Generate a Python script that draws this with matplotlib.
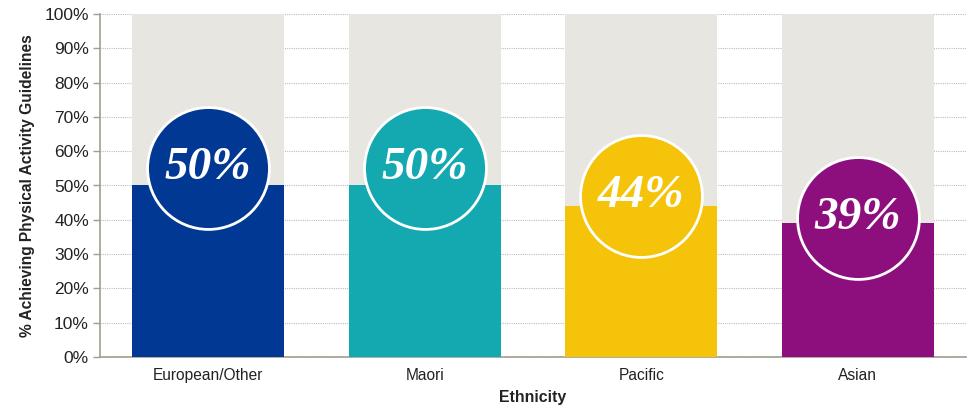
import matplotlib.pyplot as plt
from matplotlib.ticker import PercentFormatter

# --- Data ---
ethnicities = ["European/Other", "Maori", "Pacific", "Asian"]
achieving = [50, 50, 44, 39]
bar_colors = ["#003893", "#14A8B0", "#F5C40A", "#8C0F7D"]
yticks = [0, 10, 20, 30, 40, 50, 60, 70, 80, 90, 100]

# badge circle lift above bar top (percentage points)
badge_lift = [5.0, 5.0, 2.8, 1.4]

plt.rcParams['font.family'] = ['Liberation Sans', 'DejaVu Sans']

fig = plt.figure(figsize=(9.73, 4.11), dpi=100)
ax = fig.add_axes([100 / 973, 54 / 411, 866 / 973, 343 / 411])

x = range(len(ethnicities))
ax.bar(x, [100] * len(x), width=0.70, color="#E8E6E1", zorder=2)
ax.bar(x, achieving, width=0.70, color=bar_colors, zorder=3)

for i, (v, c, lift) in enumerate(zip(achieving, bar_colors, badge_lift)):
    ax.scatter(i, v + lift, s=7700, color=c, edgecolors="white",
               linewidths=2, zorder=4)
    ax.text(i, v + lift, f"{v}%", color="white", fontsize=34,
            fontstyle="italic", fontweight="bold", family="Liberation Serif",
            ha="center", va="center", zorder=5)

ax.set_xlim(-0.5, len(ethnicities) - 0.5)
ax.set_ylim(0, 100)
ax.set_yticks(yticks)
ax.yaxis.set_major_formatter(PercentFormatter(decimals=0))
ax.set_xticks(list(x))
ax.set_xticklabels(ethnicities)
ax.tick_params(axis="both", colors="#A39E8C", labelcolor="#222222")
ax.tick_params(axis="y", length=5, width=1, labelsize=12.5, pad=3)
ax.tick_params(axis="x", length=0, pad=8, labelsize=11.2)

ax.yaxis.grid(True, linestyle=(0, (1, 1)), color="#BDBDBD", linewidth=0.8, zorder=0)
ax.set_axisbelow(True)

for side in ["top", "right"]:
    ax.spines[side].set_visible(False)
for side in ["left", "bottom"]:
    ax.spines[side].set_color("#A39E8C")
    ax.spines[side].set_linewidth(1.2)

ax.set_ylabel("% Achieving Physical Activity Guidelines", fontsize=11.2,
              fontweight="bold", color="#222222", labelpad=7)
ax.set_xlabel("Ethnicity", fontsize=11.4, fontweight="bold", color="#222222",
              labelpad=5)

fig.savefig("out.png", dpi=100)
